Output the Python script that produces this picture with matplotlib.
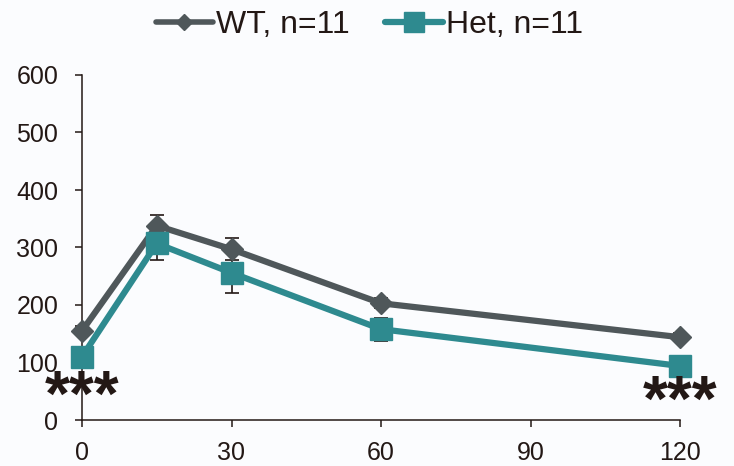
import matplotlib
matplotlib.use("Agg")
import matplotlib.pyplot as plt
from matplotlib.lines import Line2D

plt.rcParams['font.family'] = ['Liberation Sans', 'DejaVu Sans']

time = [0, 15, 30, 60, 120]
wt_mean = [155, 338, 297, 203, 144]
wt_err = [8, 19, 19, 9, 7]
het_mean = [110, 307, 256, 158, 94]
het_err = [8, 29, 35, 20, 7]
x_ticks = [0, 30, 60, 90, 120]
y_ticks = [0, 100, 200, 300, 400, 500, 600]
labels = ["WT, n=11", "Het, n=11"]
stars = [(0, 8, "***"), (120, -2, "***")]

WT_C = "#4f575a"
HET_C = "#2e8a8f"
TXT = "#231815"
BG = "#fbfcfe"

fig = plt.figure(figsize=(7.34, 4.66), dpi=100, facecolor=BG)
ax = fig.add_axes([82/734, 1-420/466, (680-82)/734, (420-75)/466], facecolor=BG)

ax.errorbar(time, wt_mean, yerr=wt_err, fmt='none', ecolor=TXT, elinewidth=1.2,
            capsize=5, capthick=1.2, zorder=2, clip_on=False)
ax.errorbar(time, het_mean, yerr=het_err, fmt='none', ecolor=TXT, elinewidth=1.2,
            capsize=5, capthick=1.2, zorder=2, clip_on=False)
ax.plot(time, wt_mean, color=WT_C, lw=4.5, marker='D', ms=11, zorder=3, clip_on=False)
ax.plot(time, het_mean, color=HET_C, lw=4.5, marker='s', ms=16, zorder=4, clip_on=False)

for x, y, s in stars:
    ax.text(x, y, s, ha='center', va='baseline', fontsize=46, fontweight='bold',
            color=TXT, zorder=5, clip_on=False)

ax.set_xlim(0, 120)
ax.set_ylim(0, 600)
ax.set_xticks(x_ticks)
ax.set_yticks(y_ticks)
for s in ['top', 'right']:
    ax.spines[s].set_visible(False)
for s in ['left', 'bottom']:
    ax.spines[s].set_color(TXT)
    ax.spines[s].set_linewidth(1.1)
ax.tick_params(axis='both', colors=TXT, labelcolor=TXT, labelsize=18, length=5, width=1.1, direction='out')
ax.tick_params(axis='y', pad=12)
ax.tick_params(axis='x', pad=10)

handles = [
    Line2D([], [], color=WT_C, lw=4, marker='D', ms=8, solid_capstyle='round'),
    Line2D([], [], color=HET_C, lw=4.5, marker='s', ms=14, solid_capstyle='round'),
]
leg = fig.legend(handles, labels, loc='upper center', bbox_to_anchor=(0.503, 1.04), ncol=2,
                 frameon=False, fontsize=23, handlelength=1.8, handletextpad=0.1,
                 columnspacing=1.1)
for t in leg.get_texts():
    t.set_color(TXT)

fig.savefig("out.png", dpi=100, facecolor=BG)
